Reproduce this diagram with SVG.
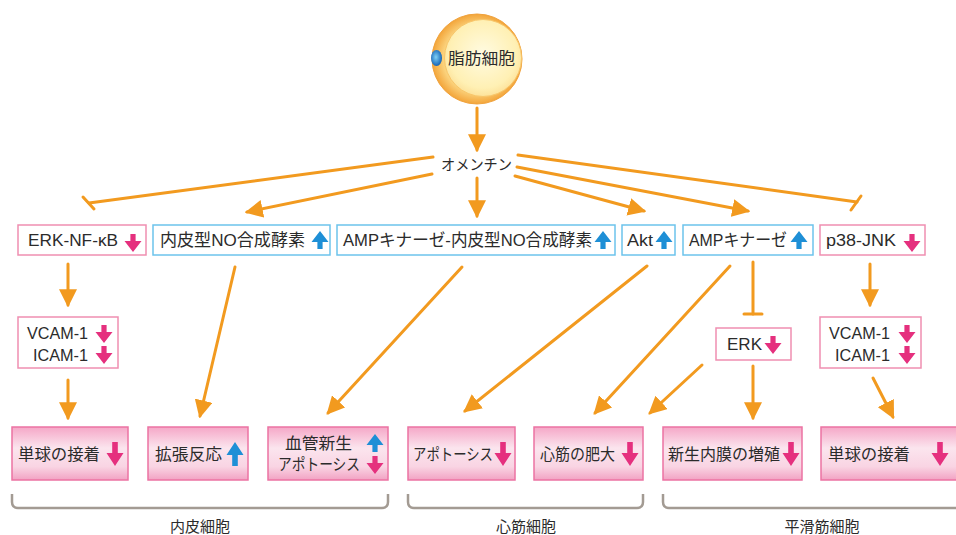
<svg xmlns="http://www.w3.org/2000/svg" width="956" height="535" viewBox="0 0 956 535">
  <style>
    text { font-family: "Liberation Sans", "Noto Sans CJK JP", sans-serif; fill: #2b2b2b; }
    .t17 { font-size: 17px; }
    .t16 { font-size: 16px; }
    .t15 { font-size: 15px; }
    .lbl { font-size: 15px; text-anchor: middle; }
    .pinkbox { fill: #ffffff; stroke: #ef8fb1; stroke-width: 1.5; }
    .bluebox { fill: #ffffff; stroke: #6cc3ec; stroke-width: 1.5; }
    .result { fill: url(#resultFill); stroke: #ec73a3; stroke-width: 1.5; }
    .conn { stroke: #f29a1f; stroke-width: 3; fill: none; stroke-linecap: round; }
    .arr { marker-end: url(#head); }
    .brace { stroke: #a39b93; stroke-width: 2.5; fill: none; }
  </style>
  <defs>
    <marker id="head" markerUnits="userSpaceOnUse" markerWidth="18" markerHeight="18" viewBox="0 0 16 16" refX="14" refY="8" orient="auto">
      <path d="M0,0 L16,8 L0,16 Z" fill="#f29a1f"/>
    </marker>
    <linearGradient id="resultFill" x1="0" y1="0" x2="0" y2="1">
      <stop offset="0" stop-color="#f5a7c7"/>
      <stop offset="0.4" stop-color="#fbe5ee"/>
      <stop offset="0.75" stop-color="#f9d4e3"/>
      <stop offset="1" stop-color="#f2a2c3"/>
    </linearGradient>
    <radialGradient id="cellOuter" cx="0.5" cy="0.5" r="0.5">
      <stop offset="0.75" stop-color="#fbd27c"/>
      <stop offset="1" stop-color="#f3a53a"/>
    </radialGradient>
    <radialGradient id="cellInner" cx="0.5" cy="0.45" r="0.55">
      <stop offset="0" stop-color="#fffbe2"/>
      <stop offset="0.8" stop-color="#fff0b4"/>
      <stop offset="1" stop-color="#fde29a"/>
    </radialGradient>
    <radialGradient id="nucleus" cx="0.45" cy="0.45" r="0.55">
      <stop offset="0" stop-color="#7fd0f5"/>
      <stop offset="1" stop-color="#1565b8"/>
    </radialGradient>
    <path id="dn" d="M-2.6,-9 L2.6,-9 L2.6,-2 L8.5,-2 L0,9 L-8.5,-2 L-2.6,-2 Z" fill="#e5307e"/>
    <path id="up" d="M-2.6,9 L2.6,9 L2.6,2 L8.5,2 L0,-9 L-8.5,2 L-2.6,2 Z" fill="#1e8fd6"/>
    <path id="dnT" d="M-2.8,-12 L2.8,-12 L2.8,-1 L8.5,-1 L0,12 L-8.5,-1 L-2.8,-1 Z" fill="#e5307e"/>
    <path id="upT" d="M-2.8,12 L2.8,12 L2.8,1 L8.5,1 L0,-12 L-8.5,1 L-2.8,1 Z" fill="#1e8fd6"/>
  </defs>

  <!-- adipocyte -->
  <g id="adipocyte">
    <circle cx="477" cy="59" r="45" fill="url(#cellOuter)" stroke="#f0a23c" stroke-width="1"/>
    <circle cx="483" cy="58" r="38.5" fill="url(#cellInner)" stroke="#f8c66a" stroke-width="1"/>
    <ellipse cx="436.5" cy="58" rx="5.5" ry="8" fill="url(#nucleus)"/>
    <text x="448" y="64" class="t16" textLength="67" lengthAdjust="spacingAndGlyphs">脂肪細胞</text>
  </g>

  <g id="omentin">
    <text x="441" y="170" class="t15" textLength="71" lengthAdjust="spacingAndGlyphs">オメンチン</text>
  </g>

  <!-- connectors -->
  <g id="connectors">
    <line class="conn arr" x1="477" y1="108" x2="477" y2="150"/>
    <line class="conn arr" x1="477" y1="178" x2="477" y2="216"/>
    <line class="conn arr" x1="432" y1="174" x2="247" y2="212"/>
    <line class="conn" x1="433" y1="157" x2="89" y2="203"/>
    <line class="conn" x1="83" y1="197" x2="94" y2="209"/>
    <line class="conn arr" x1="515" y1="176" x2="644" y2="211"/>
    <line class="conn arr" x1="517" y1="167" x2="748" y2="211"/>
    <line class="conn" x1="518" y1="155" x2="857" y2="202"/>
    <line class="conn" x1="851" y1="210" x2="861" y2="196"/>

    <line class="conn arr" x1="68" y1="264" x2="68" y2="305"/>
    <line class="conn arr" x1="68" y1="380" x2="68" y2="418"/>
    <line class="conn arr" x1="235" y1="267" x2="200" y2="416"/>
    <line class="conn arr" x1="462" y1="267" x2="328" y2="413"/>
    <line class="conn arr" x1="647" y1="266" x2="465" y2="411"/>
    <line class="conn arr" x1="730" y1="266" x2="595" y2="413"/>
    <line class="conn arr" x1="702" y1="365" x2="650" y2="413"/>
    <line class="conn" x1="753" y1="262" x2="753" y2="314"/>
    <line class="conn" x1="744" y1="314" x2="762" y2="314"/>
    <line class="conn arr" x1="753" y1="366" x2="753" y2="418"/>
    <line class="conn arr" x1="870" y1="264" x2="870" y2="305"/>
    <line class="conn arr" x1="873" y1="378" x2="893" y2="417"/>
  </g>

  <!-- first tier -->
  <g id="erk-nfkb">
    <rect class="pinkbox" x="18" y="225" width="128" height="30"/>
    <text x="28" y="246" class="t17" textLength="90" lengthAdjust="spacingAndGlyphs">ERK-NF-κB</text>
    <use href="#dn" x="133" y="243"/>
  </g>
  <g id="enos">
    <rect class="bluebox" x="153" y="225" width="177" height="30"/>
    <text x="160" y="246" class="t17" textLength="145" lengthAdjust="spacingAndGlyphs">内皮型NO合成酵素</text>
    <use href="#up" x="320" y="240"/>
  </g>
  <g id="ampk-enos">
    <rect class="bluebox" x="337" y="225" width="278" height="30"/>
    <text x="343" y="246" class="t17" textLength="249" lengthAdjust="spacingAndGlyphs">AMPキナーゼ-内皮型NO合成酵素</text>
    <use href="#up" x="603" y="240"/>
  </g>
  <g id="akt">
    <rect class="bluebox" x="622" y="225" width="53" height="30"/>
    <text x="627" y="246" class="t17" textLength="26" lengthAdjust="spacingAndGlyphs">Akt</text>
    <use href="#up" x="664" y="240"/>
  </g>
  <g id="ampk">
    <rect class="bluebox" x="683" y="225" width="130" height="30"/>
    <text x="689" y="246" class="t17" textLength="98" lengthAdjust="spacingAndGlyphs">AMPキナーゼ</text>
    <use href="#up" x="799" y="240"/>
  </g>
  <g id="p38-jnk">
    <rect class="pinkbox" x="820" y="225" width="105" height="30"/>
    <text x="826" y="246" class="t17" textLength="70" lengthAdjust="spacingAndGlyphs">p38-JNK</text>
    <use href="#dn" x="912" y="243"/>
  </g>

  <!-- second tier -->
  <g id="adhesion-left">
    <rect class="pinkbox" x="18" y="317" width="100" height="51"/>
    <text x="27" y="339" class="t16" textLength="61" lengthAdjust="spacingAndGlyphs">VCAM-1</text>
    <text x="33" y="361" class="t16" textLength="55" lengthAdjust="spacingAndGlyphs">ICAM-1</text>
    <use href="#dn" x="104" y="334"/>
    <use href="#dn" x="104" y="355"/>
  </g>
  <g id="erk">
    <rect class="pinkbox" x="716" y="328" width="75" height="32"/>
    <text x="727" y="350" class="t16" textLength="35" lengthAdjust="spacingAndGlyphs">ERK</text>
    <use href="#dn" x="773" y="345"/>
  </g>
  <g id="adhesion-right">
    <rect class="pinkbox" x="820" y="317" width="101" height="51"/>
    <text x="829" y="339" class="t16" textLength="61" lengthAdjust="spacingAndGlyphs">VCAM-1</text>
    <text x="835" y="361" class="t16" textLength="55" lengthAdjust="spacingAndGlyphs">ICAM-1</text>
    <use href="#dn" x="907" y="334"/>
    <use href="#dn" x="907" y="355"/>
  </g>

  <!-- outcomes -->
  <g id="monocyte-endo">
    <rect class="result" x="12" y="427" width="116" height="53"/>
    <text x="18" y="460" class="t16" textLength="82" lengthAdjust="spacingAndGlyphs">単球の接着</text>
    <use href="#dnT" x="115" y="454"/>
  </g>
  <g id="dilation">
    <rect class="result" x="148" y="427" width="100" height="53"/>
    <text x="155" y="460" class="t16" textLength="67" lengthAdjust="spacingAndGlyphs">拡張反応</text>
    <use href="#upT" x="235" y="454"/>
  </g>
  <g id="angio-apoptosis">
    <rect class="result" x="268" y="427" width="120" height="53"/>
    <text x="285" y="449" class="t16" textLength="67" lengthAdjust="spacingAndGlyphs">血管新生</text>
    <text x="278" y="470" class="t16" textLength="82" lengthAdjust="spacingAndGlyphs">アポトーシス</text>
    <use href="#up" x="375" y="443"/>
    <use href="#dn" x="375" y="465"/>
  </g>
  <g id="apoptosis-cm">
    <rect class="result" x="408" y="427" width="107" height="53"/>
    <text x="413" y="460" class="t16" textLength="80" lengthAdjust="spacingAndGlyphs">アポトーシス</text>
    <use href="#dnT" x="503" y="454"/>
  </g>
  <g id="hypertrophy">
    <rect class="result" x="534" y="427" width="109" height="53"/>
    <text x="540" y="460" class="t16" textLength="75" lengthAdjust="spacingAndGlyphs">心筋の肥大</text>
    <use href="#dnT" x="630" y="454"/>
  </g>
  <g id="neointima">
    <rect class="result" x="663" y="427" width="139" height="53"/>
    <text x="668" y="460" class="t16" textLength="112" lengthAdjust="spacingAndGlyphs">新生内膜の増殖</text>
    <use href="#dnT" x="791" y="454"/>
  </g>
  <g id="monocyte-smc">
    <rect class="result" x="821" y="427" width="140" height="53"/>
    <text x="828" y="460" class="t16" textLength="82" lengthAdjust="spacingAndGlyphs">単球の接着</text>
    <use href="#dnT" x="940" y="454"/>
  </g>

  <!-- cell-type groupings -->
  <g id="endothelial">
    <path class="brace" d="M12,494 V502 Q12,508 18,508 H382 Q388,508 388,502 V494"/>
    <text x="200" y="532" class="lbl">内皮細胞</text>
  </g>
  <g id="cardiomyocyte">
    <path class="brace" d="M408,494 V502 Q408,508 414,508 H637 Q643,508 643,502 V494"/>
    <text x="526" y="532" class="lbl">心筋細胞</text>
  </g>
  <g id="smooth-muscle">
    <path class="brace" d="M663,494 V502 Q663,508 669,508 H960"/>
    <text x="822" y="532" class="lbl">平滑筋細胞</text>
  </g>
</svg>
